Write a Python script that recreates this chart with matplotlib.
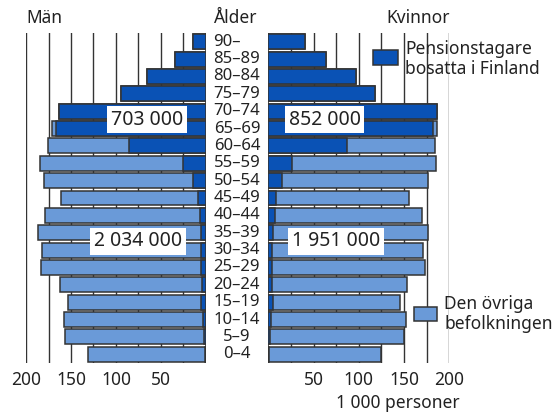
import matplotlib
matplotlib.use("Agg")
import matplotlib.pyplot as plt
from matplotlib.patches import Rectangle
from matplotlib.transforms import blended_transform_factory

plt.rcParams['font.family'] = ['Noto Sans', 'DejaVu Sans']

ages = ['0–4', '5–9', '10–14', '15–19', '20–24', '25–29', '30–34', '35–39',
        '40–44', '45–49', '50–54', '55–59', '60–64', '65–69', '70–74',
        '75–79', '80–84', '85–89', '90–']

# 1 000 personer, total population per age group
men_total = [131, 157, 158, 153, 162, 183, 182, 187, 179, 161, 180, 184,
             176, 171, 163, 94, 65, 34, 14]
men_pension = [1, 2, 3, 5, 4, 5, 5, 6, 7, 8.5, 14, 25, 86, 167, 163, 94, 65, 34, 14]
women_total = [125, 150, 152, 145, 153, 173, 171, 176, 170, 155, 177, 185,
               184, 186, 186, 118, 97, 64, 41]
women_pension = [0.5, 2, 3, 5, 4, 4.5, 4.5, 5.5, 7, 9, 15, 26, 87, 182, 186, 118, 97, 64, 41]

labels_left = {'703 000': (65.5, 13.5), '2 034 000': (75.5, 6.5)}
labels_right = {'852 000': (62.6, 13.5), '1 951 000': (74.8, 6.5)}

dark = '#0a52b5'
light = '#6a9ad8'
edge = '#333333'
W, H = 556, 412

fig = plt.figure(figsize=(W / 100, H / 100), dpi=100)


def px(x0, y0, x1, y1):
    return [x0 / W, 1 - y1 / H, (x1 - x0) / W, (y1 - y0) / H]


ax_l = fig.add_axes(px(26, 33, 206, 363))
ax_r = fig.add_axes(px(268.3, 33, 449.3, 363))
ypos = list(range(len(ages)))

for ax, tot, pen, ticks in [(ax_l, men_total, men_pension, [200, 150, 100, 50]),
                            (ax_r, women_total, women_pension, [50, 100, 150, 200])]:
    for g in range(25, 201, 25):
        ax.axvline(g, color=edge, lw=1, zorder=0)
    ax.axvline(0, color=edge, lw=1.2, zorder=0)
    ax.barh(ypos, tot, height=0.86, color=light, edgecolor=edge, lw=1.1, zorder=2)
    ax.barh(ypos, pen, height=0.86, color=dark, edgecolor=edge, lw=1.1, zorder=3)
    ax.set_ylim(-0.5, len(ages) - 0.5)
    ax.set_yticks([])
    ax.set_xticks(ticks)
    ax.tick_params(axis='x', length=0, pad=6, labelsize=12.5, colors='#222222')
    for s in ax.spines.values():
        s.set_visible(False)

ax_l.set_xlim(200, 0)
ax_r.set_xlim(0, 200)

for ax, d in [(ax_l, labels_left), (ax_r, labels_right)]:
    for txt, (x, y) in d.items():
        ax.text(x, y, txt, ha='center', va='center', fontsize=14, color='#222222',
                zorder=5, bbox=dict(facecolor='white', edgecolor='none', pad=2.5))

tr = blended_transform_factory(fig.transFigure, ax_l.transData)
for y, a in zip(ypos, ages):
    if a == '90–':
        fig.text(213 / W, y, a, transform=tr, ha='left', va='center', fontsize=12, color='#222222')
    else:
        fig.text(237 / W, y, a, transform=tr, ha='center', va='center', fontsize=12, color='#222222')


def ftext(x, y, s, **kw):
    fig.text(x / W, 1 - y / H, s, color='#222222', **kw)


ftext(44.5, 18, 'Män', ha='center', va='center', fontsize=12.5)
ftext(236, 18, 'Ålder', ha='center', va='center', fontsize=12.5)
ftext(418, 18, 'Kvinnor', ha='center', va='center', fontsize=12.5)
ftext(398, 403, '1 000 personer', ha='center', va='center', fontsize=12.5)

fig.patches.append(Rectangle((373 / W, 1 - 65 / H), 25 / W, 15 / H, transform=fig.transFigure,
                             facecolor=dark, edgecolor=edge, lw=1.1))
ftext(405, 59, 'Pensionstagare\nbosatta i Finland', ha='left', va='center', fontsize=12.5,
      linespacing=1.2)
fig.patches.append(Rectangle((414 / W, 1 - 321 / H), 23 / W, 14 / H, transform=fig.transFigure,
                             facecolor=light, edgecolor=edge, lw=1.1))
ftext(444, 314, 'Den övriga\nbefolkningen', ha='left', va='center', fontsize=12.5,
      linespacing=1.2)

fig.savefig('out.png', dpi=100)
